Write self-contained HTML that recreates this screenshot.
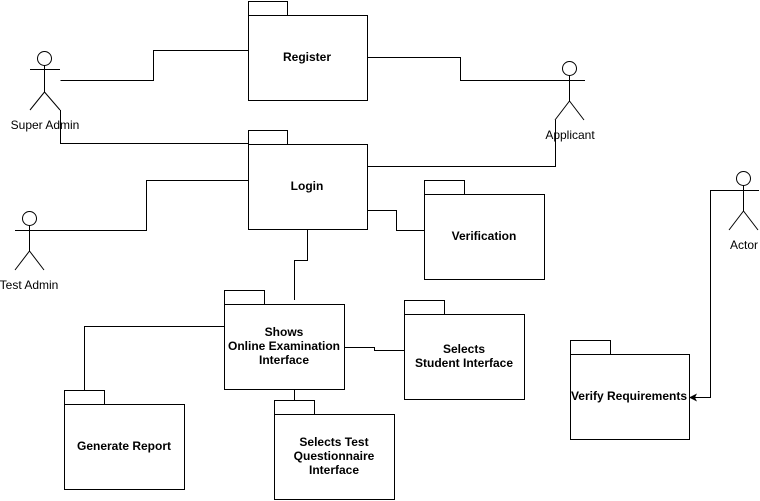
<!DOCTYPE html>
<html><head><meta charset="utf-8"><style>
html,body{margin:0;padding:0;background:#fff}
svg{display:block}
text{font-family:"Liberation Sans",Arial,sans-serif;font-size:12px;fill:#000}
.b{font-weight:bold}
</style></head><body>
<svg width="760" height="501" viewBox="0 0 760 501" xmlns="http://www.w3.org/2000/svg">
<defs><marker id="a" markerWidth="8" markerHeight="8" refX="7" refY="4" orient="auto" markerUnits="userSpaceOnUse"><path d="M0,0 L8,4 L0,8 L2,4 Z" fill="#000"/></marker></defs>
<g fill="none" stroke="#000" stroke-width="1">
<!-- connectors -->
<polyline points="60.5,80.5 153.5,80.5 153.5,50.5 248,50.5"/>
<polyline points="367,57.5 460.5,57.5 460.5,80.5 555,80.5"/>
<polyline points="60.5,110 60.5,143.5 248,143.5"/>
<polyline points="555.5,120 555.5,166.5 367,166.5"/>
<polyline points="15,230.5 146.5,230.5 146.5,180.5 248,180.5"/>
<polyline points="367,210.5 396.5,210.5 396.5,230.5 424,230.5"/>
<polyline points="307.5,230 307.5,260.5 294.5,260.5 294.5,300"/>
<polyline points="224,326.5 84.5,326.5 84.5,390"/>
<polyline points="344,347.5 374.5,347.5 374.5,350.5 404,350.5"/>
<polyline points="294.5,390 294.5,400"/>
<polyline points="729,190.5 710.5,190.5 710.5,397.5 690,397.5" marker-end="url(#a)"/>
<!-- packages -->
<rect x="248.5" y="1.5" width="39" height="14"/><rect x="248.5" y="15.5" width="119" height="85"/>
<rect x="248.5" y="130.5" width="39" height="14"/><rect x="248.5" y="144.5" width="119" height="85"/>
<rect x="424.5" y="180.5" width="40" height="14"/><rect x="424.5" y="194.5" width="120" height="85"/>
<rect x="224.5" y="290.5" width="40" height="14"/><rect x="224.5" y="304.5" width="120" height="85"/>
<rect x="404.5" y="300.5" width="40" height="14"/><rect x="404.5" y="314.5" width="120" height="85"/>
<rect x="64.5" y="390.5" width="40" height="14"/><rect x="64.5" y="404.5" width="120" height="85"/>
<rect x="274.5" y="400.5" width="40" height="14"/><rect x="274.5" y="414.5" width="120" height="85"/>
<rect x="570.5" y="340.5" width="40" height="14"/><rect x="570.5" y="354.5" width="119" height="85"/>
<!-- actors -->
<g id="sa"><circle cx="44.5" cy="58.5" r="7"/><path d="M44.5,65.5V92 M30,69.5H60 M44.5,92L30,110 M44.5,92L60,110"/></g>
<g><circle cx="569.5" cy="68.5" r="7"/><path d="M569.5,75.5V101 M555,80.5H585 M569.5,101L555,120 M569.5,101L584,120"/></g>
<g><circle cx="29.5" cy="218.5" r="7"/><path d="M29.5,225.5V251 M15,230.5H44 M29.5,251L15,270 M29.5,251L44,270"/></g>
<g><circle cx="743.5" cy="178.5" r="7"/><path d="M743.5,185.5V211 M729,190.5H759 M743.5,211L729,230 M743.5,211L758,230"/></g>
</g>
<text x="45" y="129" text-anchor="middle">Super Admin</text>
<text x="570" y="139" text-anchor="middle">Applicant</text>
<text x="29" y="289" text-anchor="middle">Test Admin</text>
<text x="744" y="249" text-anchor="middle">Actor</text>
<g class="b" text-anchor="middle">
<text class="b" x="307" y="61">Register</text>
<text class="b" x="307" y="190">Login</text>
<text class="b" x="484" y="240">Verification</text>
<text class="b" x="284" y="336">Shows</text>
<text class="b" x="284" y="350">Online Examination</text>
<text class="b" x="284" y="364">Interface</text>
<text class="b" x="464" y="353">Selects</text>
<text class="b" x="464" y="367">Student Interface</text>
<text class="b" x="124" y="450">Generate Report</text>
<text class="b" x="334" y="446">Selects Test</text>
<text class="b" x="334" y="460">Questionnaire</text>
<text class="b" x="334" y="474">Interface</text>
<text class="b" x="629" y="400">Verify Requirements</text>
</g>
</svg>
</body></html>
